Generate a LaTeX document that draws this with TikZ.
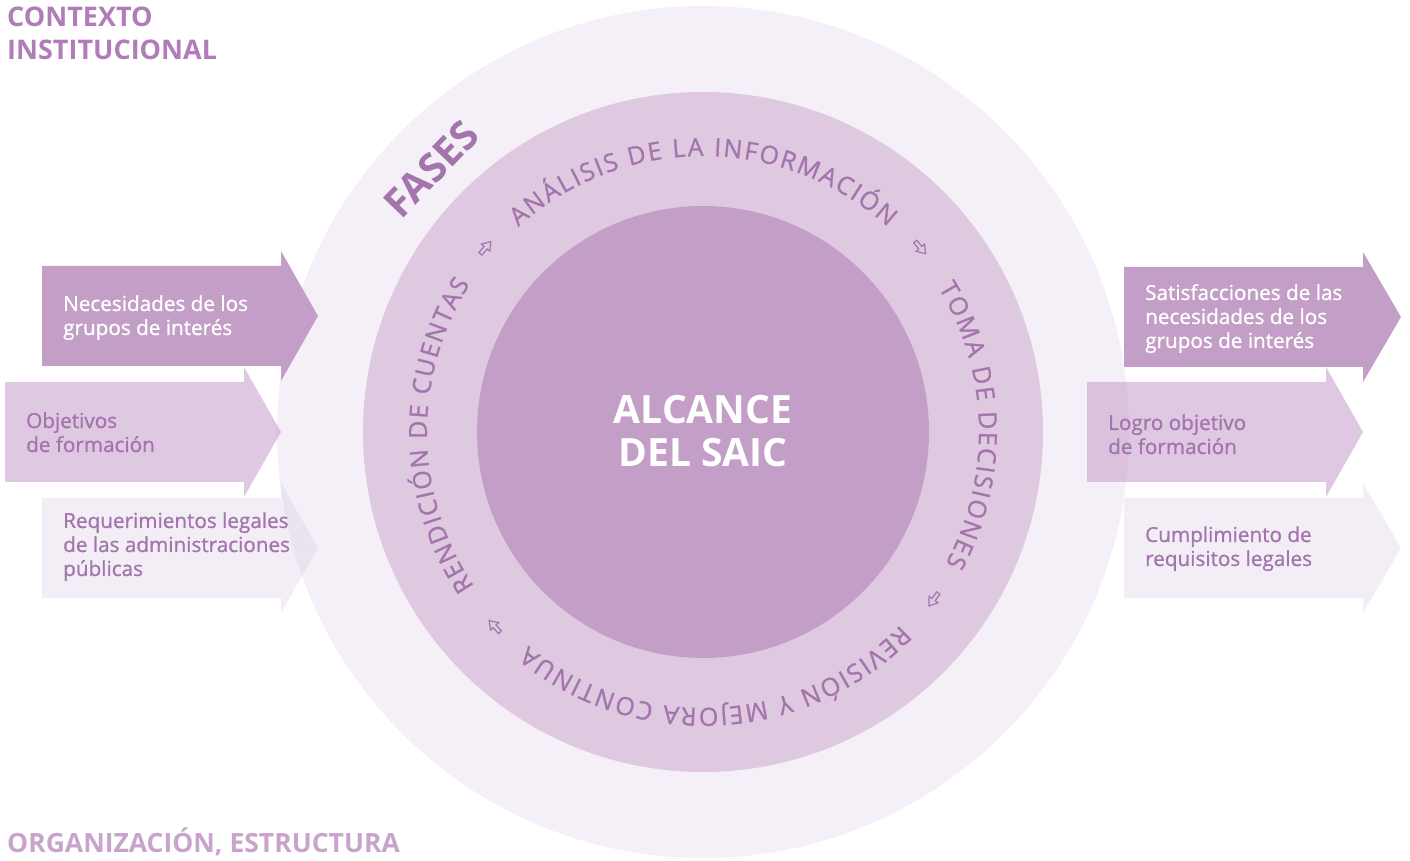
\documentclass[tikz,border=0pt]{standalone}
\usepackage{fontspec}
\setmainfont{Open Sans}
\newfontfamily\semib{Open Sans}[FakeBold=1.0]
\usetikzlibrary{decorations.text}
\definecolor{outerc}{HTML}{F5F0F7}
\definecolor{ringc}{HTML}{DFC9E1}
\definecolor{darkc}{HTML}{C39FC7}
\definecolor{medc}{RGB}{202,163,205}
\definecolor{lightc}{RGB}{216,200,226}
\definecolor{txtc}{HTML}{A474AD}
\definecolor{titlec}{HTML}{B07DB8}
\definecolor{title2c}{HTML}{C8A3CC}
\newcommand{\arrowpath}[4]{({#1},{#4-50}) -- ({#2},{#4-50}) -- ({#2},{#4-65}) -- ({#3},{#4}) -- ({#2},{#4+65}) -- ({#2},{#4+50}) -- ({#1},{#4+50}) -- cycle}
\newcommand{\curvefont}{\color{txtc}\semib\fontsize{25pt}{28pt}\selectfont}
\begin{document}
\begin{tikzpicture}[x=1pt,y=1pt,
  arrtext/.style={anchor=base west, align=left, inner sep=0pt, font=\semib\fontsize{20.7pt}{24pt}\selectfont},
  whitetext/.style={arrtext, text=white},
  purpletext/.style={arrtext, text=txtc},
  smallarr/.style={draw=txtc, line width=1.2pt, line join=miter, fill=none},
  curved/.style={decorate, decoration={text along path, text align={fit to path}}}
]
\useasboundingbox (0,0) rectangle (1410,861);
\coordinate (c) at (703,429);
% circles
\fill[outerc] (c) circle[radius=426pt];
\fill[ringc] (c) circle[radius=340pt];
\fill[darkc] (c) circle[radius=226pt];
% arrows
\fill[darkc] \arrowpath{42}{281}{318}{545};
\fill[medc, fill opacity=0.6] \arrowpath{5}{244}{281}{429};
\fill[lightc, fill opacity=0.3] \arrowpath{42}{281}{318}{313};
\fill[darkc] \arrowpath{1124}{1363}{1401}{544};
\fill[medc, fill opacity=0.6] \arrowpath{1087}{1326}{1363}{429};
\fill[lightc, fill opacity=0.3] \arrowpath{1124}{1363}{1401}{313};
% arrow texts (anchor = baseline of last line)
\node[whitetext] (nec) at (63,526) {Necesidades de los\\grupos de interés};
\node[purpletext] (obj) at (26,409) {Objetivos\\de formación};
\node[purpletext] (req) at (63,285) {Requerimientos legales\\de las administraciones\\públicas};
\node[whitetext] (sat) at (1145,513) {Satisfacciones de las\\necesidades de los\\grupos de interés};
\node[purpletext] (log) at (1108,407) {Logro objetivo\\de formación};
\node[purpletext] (cum) at (1145,295) {Cumplimiento de\\requisitos legales};
% center
\node[text=white, align=center, font=\bfseries\fontsize{39pt}{43pt}\selectfont] (alc) at (703,430) {ALCANCE\\DEL SAIC};
% titles
\node[anchor=base west, align=left, inner sep=0pt, text=titlec, font=\bfseries\fontsize{27pt}{33pt}\selectfont] (ctx) at (7,801) {CONTEXTO\\INSTITUCIONAL};
\node[anchor=base west, inner sep=0pt, text=title2c, font=\bfseries\fontsize{26.5pt}{33pt}\selectfont] (org) at (7,8) {ORGANIZACIÓN, ESTRUCTURA};
% FASES
\node[rotate=46, text=txtc, font=\bfseries\fontsize{40pt}{42pt}\selectfont] (fases) at (431,692) {FASES};
% curved phase texts
\path[curved, decoration={text={|\curvefont|ANÁLISIS DE LA INFORMACIÓN}}] (c) ++(132:276pt) arc[start angle=132, end angle=48, radius=276pt];
\path[curved, decoration={text={|\curvefont|TOMA DE DECISIONES}}] (c) ++(31.5:276pt) arc[start angle=31.5, end angle=-28.5, radius=276pt];
\path[curved, decoration={text={|\curvefont|REVISIÓN Y MEJORA CONTINUA}}] (c) ++(-44.3:276pt) arc[start angle=-44.3, end angle=-129.2, radius=276pt];
\path[curved, decoration={text={|\curvefont|RENDICIÓN DE CUENTAS}}] (c) ++(214:276pt) arc[start angle=214, end angle=147.6, radius=276pt];
% small hollow arrows
\begin{scope}[shift={(c)}]
\draw[smallarr, shift={(139.7:285pt)}, rotate=49.7] (-8,-2) -- (0,-2) -- (0,-5.5) -- (8,0) -- (0,5.5) -- (0,2) -- (-8,2) -- cycle;
\draw[smallarr, shift={(40.3:285pt)}, rotate=-49.7] (-8,-2) -- (0,-2) -- (0,-5.5) -- (8,0) -- (0,5.5) -- (0,2) -- (-8,2) -- cycle;
\draw[smallarr, shift={(-36:285pt)}, rotate=-126] (-8,-2) -- (0,-2) -- (0,-5.5) -- (8,0) -- (0,5.5) -- (0,2) -- (-8,2) -- cycle;
\draw[smallarr, shift={(-137:285pt)}, rotate=133] (-8,-2) -- (0,-2) -- (0,-5.5) -- (8,0) -- (0,5.5) -- (0,2) -- (-8,2) -- cycle;
\end{scope}
\end{tikzpicture}
\end{document}
